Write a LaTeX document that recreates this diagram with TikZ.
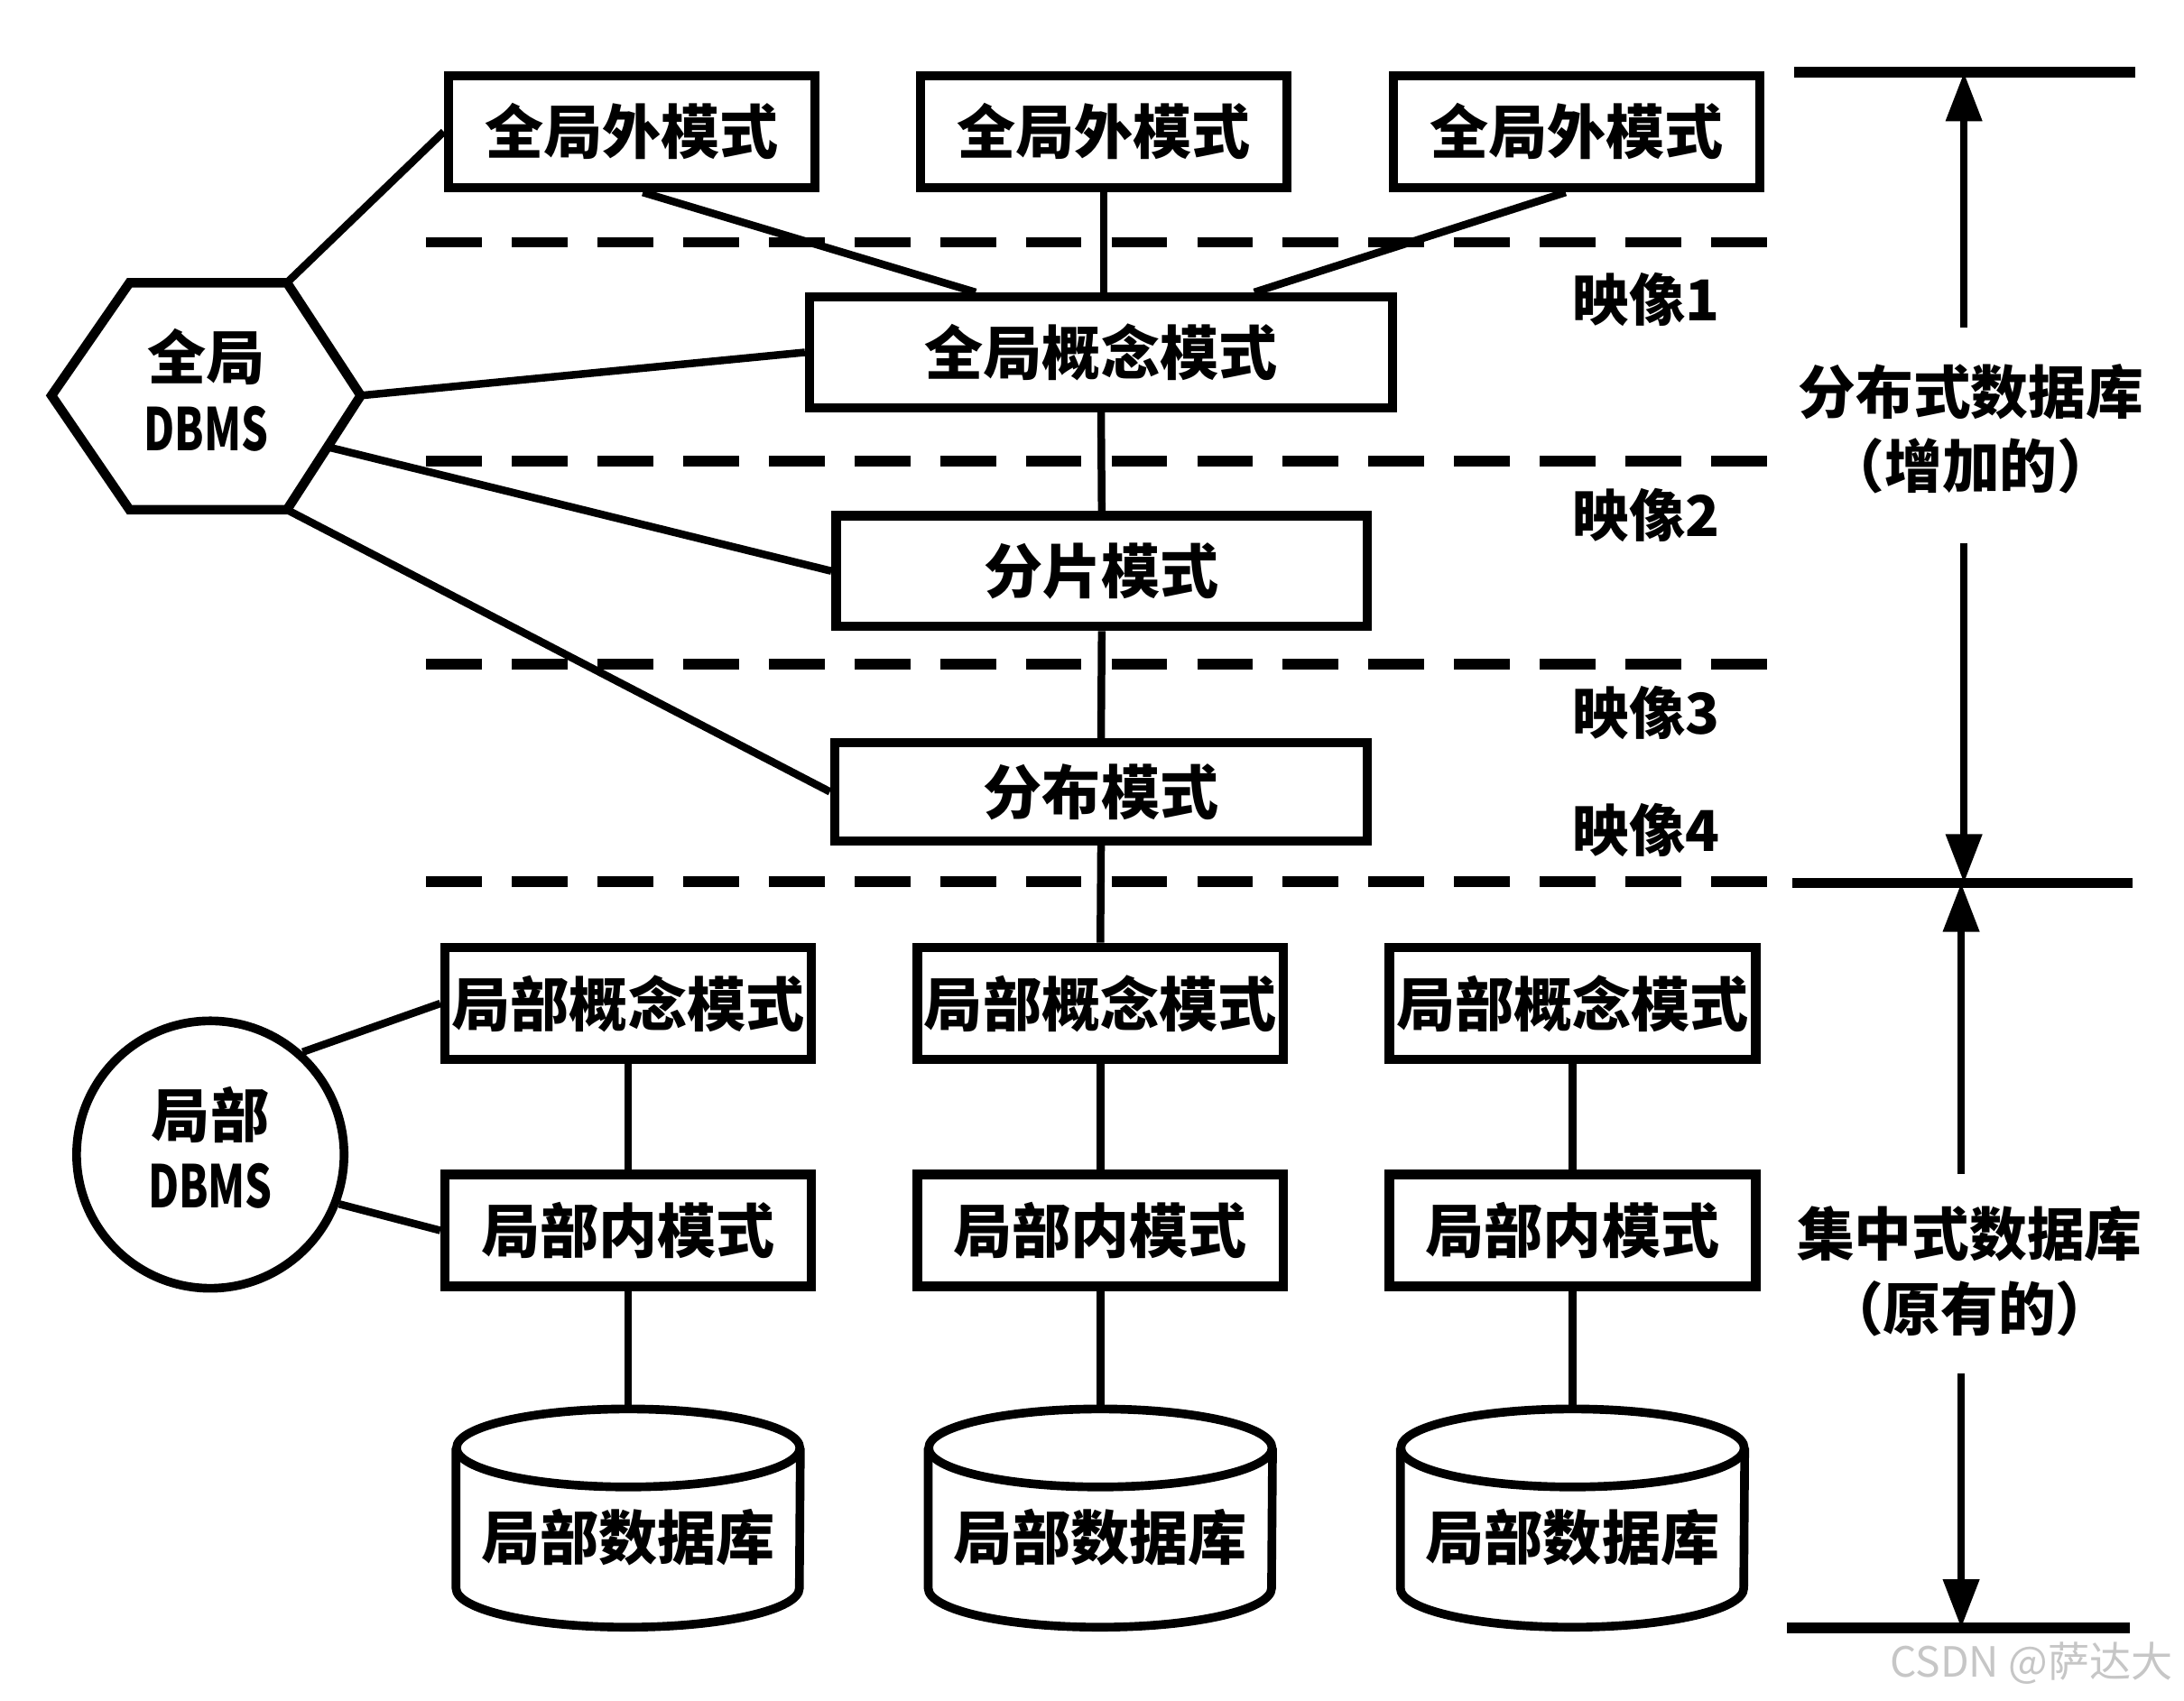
\documentclass[tikz,border=0pt]{standalone}
\usepackage{fontspec}
\usepackage{graphicx}
\setmainfont{Noto Sans CJK SC}
\usetikzlibrary{arrows.meta,calc}
\begin{document}
\begin{tikzpicture}[x=0.2mm,y=0.2mm,
  every node/.style={font=\bfseries\fontsize{24pt}{27pt}\selectfont},
  box/.style={draw,line width=1.35mm,inner sep=0pt,minimum height=16.1mm,minimum width=52.6mm},
  link/.style={line width=1.1mm},
  sep/.style={line width=1.5mm,dash pattern=on 8mm off 4.3mm},
  dimline/.style={line width=1.5mm},
  dimarrow/.style={line width=1.1mm,-{Triangle[length=7mm,width=5mm]}},
  maplabel/.style={anchor=west,font=\bfseries\fontsize{23pt}{27pt}\selectfont},
  dimlabel/.style={align=center,font=\bfseries\fontsize{23.5pt}{30.5pt}\selectfont},
  dbmslabel/.style={align=center,font=\bfseries\fontsize{24pt}{29pt}\selectfont},
  dbshape/.style={line width=1.25mm},
]
\fill[white] (0,0) rectangle (1568,-1221);
\useasboundingbox (0,0) rectangle (1568,-1221);

% ---------- global external schemas
\node[box] (ext1) at (453.5,-94.5) {全局外模式};
\node[box] (ext2) at (792.5,-94.5) {全局外模式};
\node[box] (ext3) at (1132,-94.5) {全局外模式};

% ---------- middle column
\node[box,minimum width=83.7mm,minimum height=15.9mm] (gconc) at (790.5,-253) {全局概念模式};
\node[box,minimum width=76.3mm,minimum height=15.9mm] (frag) at (791,-410) {分片模式};
\node[box,minimum width=76.5mm,minimum height=14.1mm] (distr) at (790.5,-568.5) {分布模式};

% ---------- local columns
\foreach \n/\x in {A/451,B/790,C/1129}{
  \node[box] (lc\n) at (\x,-720.5) {局部概念模式};
  \node[box] (li\n) at (\x,-883.5) {局部内模式};
  \node[inner sep=0pt,minimum width=49.3mm,minimum height=25.6mm] (db\n) at (\x,-1104) {局部数据库};
  \draw[dbshape] (db\n.north west) -- ($(db\n.south west)+(0,28)$)
     arc[start angle=180,end angle=360,x radius=123.25,y radius=28] -- (db\n.north east);
  \draw[dbshape] (db\n.north) ellipse[x radius=123.25,y radius=28];
  \draw[link] (lc\n.south) -- (li\n.north);
  \draw[link] (li\n.south) -- ($(db\n.north)+(0,28)$);
}

% ---------- global DBMS hexagon
\coordinate (hL) at (37,-284);
\coordinate (hTL) at (93,-203);
\coordinate (hTR) at (206,-203);
\coordinate (hR) at (259,-284);
\coordinate (hBR) at (206,-366);
\coordinate (hBL) at (93,-366);
\draw[line width=1.35mm,line join=miter] (hL) -- (hTL) -- (hTR) -- (hR) -- (hBR) -- (hBL) -- cycle;
\node[dbmslabel] (gdbms) at (148,-280) {全局\\\scalebox{0.72}[1]{DBMS}};
\coordinate (hE) at ($(hR)!0.45!(hBR)$);

% ---------- local DBMS circle
\node[circle,draw,line width=1.25mm,minimum size=38.4mm,inner sep=0pt] (ldbms) at (151,-829) {};
\node[dbmslabel] (ldbmstext) at (151,-824) {局部\\\scalebox{0.72}[1]{DBMS}};

% ---------- separators (mappings)
\foreach \y in {174,331,477,633}
  \draw[sep] (306,-\y) -- (1269,-\y);

% ---------- connectors
\draw[link] (hTR) -- (ext1.west);
\draw[link] (hR) -- (gconc.west);
\draw[link] (hE) -- (frag.west);
\draw[link] (hBR) -- (distr.west);
\draw[link] ($(ext1.south)+(8,0)$) -- ($(gconc.north)+(-90,0)$);
\draw[link] (ext2.south) -- (ext2.south |- gconc.north);
\draw[link] ($(ext3.south)+(-8,0)$) -- ($(gconc.north)+(110,0)$);
\draw[link] (gconc.south) -- (frag.north);
\draw[link] (frag.south) -- (distr.north);
\draw[link] (distr.south) -- (lcB.north);
\draw[link] (ldbms.48) -- (lcA.west);
\draw[link] (ldbms.-21) -- (liA.west);

% ---------- mapping labels
\node[maplabel] (m1) at (1123,-215) {映像1};
\node[maplabel] (m2) at (1123,-370) {映像2};
\node[maplabel] (m3) at (1123,-512) {映像3};
\node[maplabel] (m4) at (1123,-596) {映像4};

% ---------- dimension on the right
\draw[dimline] (1288,-52) -- (1533,-52);
\draw[dimline] (1287,-634) -- (1531,-634);
\draw[dimline] (1283,-1169) -- (1529,-1169);
\coordinate (dtop) at (1410,-52);
\coordinate (dmid1) at (1410,-634);
\coordinate (dmid2) at (1408,-634);
\coordinate (dbot) at (1408,-1169);
\coordinate (s1) at (1410,-235);
\coordinate (s2) at (1410,-390);
\coordinate (s3) at (1408,-843);
\coordinate (s4) at (1408,-986);
\node[dimlabel] (dl1) at (1415,-308) {分布式数据库\\（增加的）};
\node[dimlabel] (dl2) at (1414,-913) {集中式数据库\\（原有的）};
\draw[dimarrow] (s1) -- (dtop);
\draw[dimarrow] (s2) -- (dmid1);
\draw[dimarrow] (s3) -- (dmid2);
\draw[dimarrow] (s4) -- (dbot);

% ---------- watermark
\node[anchor=east,text=gray!45,font=\fontsize{17pt}{19pt}\selectfont] (wm) at (1566,-1194) {CSDN @萨达大};
\end{tikzpicture}
\end{document}
